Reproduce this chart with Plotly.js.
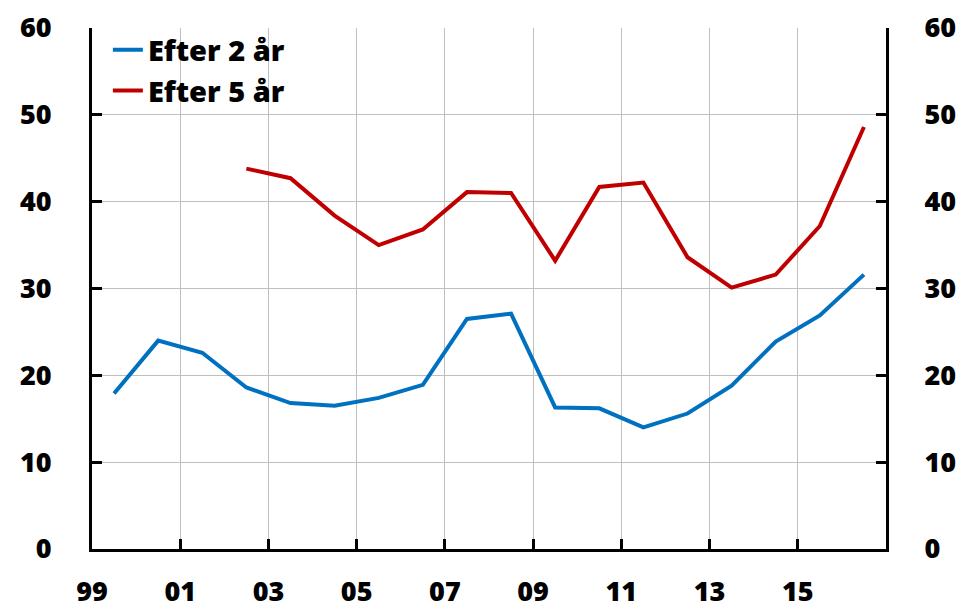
<!DOCTYPE html>
<html>
<head>
<meta charset="utf-8">
<script src="https://cdn.plot.ly/plotly-3.0.1.min.js"></script>
<style>html,body{margin:0;padding:0;background:#fff}#chart{width:961px;height:609px}</style>
</head>
<body>
<div id="chart"></div>
<script>
const years = [1999.5,2000.5,2001.5,2002.5,2003.5,2004.5,2005.5,2006.5,2007.5,2008.5,2009.5,2010.5,2011.5,2012.5,2013.5,2014.5,2015.5,2016.5];
const efter2 = [17.9,24.0,22.6,18.6,16.8,16.5,17.4,18.9,26.5,27.1,16.3,16.2,14.0,15.6,18.8,23.9,26.9,31.6];
const efter5 = [null,null,null,43.8,42.7,38.4,35.0,36.8,41.1,41.0,33.2,41.7,42.2,33.6,30.1,31.6,37.2,48.6];
const xTickVals = [1999,2001,2003,2005,2007,2009,2011,2013,2015];
const xTickText = ["99","01","03","05","07","09","11","13","15"];
const yTickVals = [0,10,20,30,40,50,60];

const FONT = {family: "'Open Sans', Lato, sans-serif", size: 27, color: "#000", weight: 800};
const LEGFONT = {family: "'Open Sans', Lato, sans-serif", size: 29, color: "#000", weight: 800};

const traces = [
  {x: years, y: efter2, name: "Efter 2 år", type: "scatter", mode: "lines",
   line: {color: "#0070C0", width: 4}},
  {x: years, y: efter5, name: "Efter 5 år", type: "scatter", mode: "lines",
   line: {color: "#C00000", width: 4}},
  {x: years, y: efter2, yaxis: "y2", type: "scatter", mode: "lines", showlegend: false,
   hoverinfo: "skip", line: {color: "rgba(0,0,0,0)", width: 0}}
];

const layout = {
  width: 961, height: 609,
  margin: {l: 92, r: 75, t: 28, b: 60},
  paper_bgcolor: "#fff", plot_bgcolor: "#fff",
  font: FONT,
  showlegend: true,
  legend: {x: 0.02, y: 1.007, xanchor: "left", yanchor: "top", bgcolor: "rgba(0,0,0,0)",
           font: LEGFONT, itemwidth: 30, tracegroupgap: 0},
  xaxis: {
    range: [1999, 2017], tickvals: xTickVals, ticktext: xTickText,
    showgrid: true, gridcolor: "#BFBFBF", gridwidth: 1,
    showline: true, linecolor: "#000", linewidth: 3,
    ticks: "inside", ticklen: 10, tickwidth: 3, tickcolor: "#000",
    ticklabelstandoff: 17, zeroline: false, tickfont: FONT
  },
  yaxis: {
    range: [0, 60], tickvals: yTickVals,
    showgrid: true, gridcolor: "#BFBFBF", gridwidth: 1,
    showline: true, linecolor: "#000", linewidth: 3,
    ticks: "inside", ticklen: 10, tickwidth: 3, tickcolor: "#000",
    ticklabelstandoff: 32, zeroline: false, tickfont: FONT
  },
  yaxis2: {
    range: [0, 60], tickvals: yTickVals, overlaying: "y", side: "right",
    showgrid: false,
    showline: true, linecolor: "#000", linewidth: 3,
    ticks: "inside", ticklen: 10, tickwidth: 3, tickcolor: "#000",
    ticklabelstandoff: 30, zeroline: false, tickfont: FONT
  }
};

Plotly.newPlot("chart", traces, layout, {displayModeBar: false, staticPlot: true});
</script>
</body>
</html>
